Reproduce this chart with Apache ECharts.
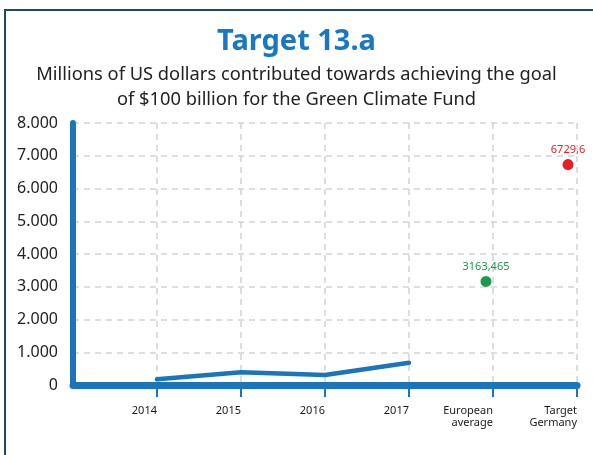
<!DOCTYPE html>
<html><head><meta charset="utf-8">
<script src="https://cdn.jsdelivr.net/npm/echarts@6/dist/echarts.min.js"></script>
<style>html,body{margin:0;padding:0;background:#fff;}#frame{position:absolute;left:4px;top:9px;width:600px;height:460px;border-left:2px solid #1f4a5c;border-top:2px solid #1f4a5c;}#c{position:absolute;left:0;top:0;width:593px;height:455px;}</style>
</head><body><div id="frame"></div><div id="c"></div>
<script>
const categories = ['', '2014', '2015', '2016', '2017', 'European\naverage', 'Target\nGermany'];
const contributions = [null, 175, 390, 305, 680, null, null];
const europeanAverage = [null, null, null, null, null, 3163.465, null];
const targetGermany = [null, null, null, null, null, null, 6729.6];
const yTicks = [0, 1000, 2000, 3000, 4000, 5000, 6000, 7000, 8000];

const chart = echarts.init(document.getElementById('c'));
const fam = '"Noto Sans", "DejaVu Sans", sans-serif';
const blue = '#1a75bc';
const fmtComma = p => String(p.value).replace('.', ',');
chart.setOption({
  animation: false,
  textStyle: {fontFamily: fam},
  title: [
    {text: 'Target 13.a', left: 'center', top: 22, textStyle: {fontSize: 29, fontWeight: 'bold', color: '#1a78c2', fontFamily: fam}},
    {text: 'Millions of US dollars contributed towards achieving the goal\nof $100 billion for the Green Climate Fund', left: 'center', top: 57,
     textStyle: {fontSize: 18.3, fontWeight: 'normal', color: '#222', lineHeight: 25, fontFamily: fam, align: 'center'}}
  ],
  grid: {left: 73, right: 16, top: 123, bottom: 70},
  xAxis: {
    type: 'category', data: categories, boundaryGap: false,
    axisLine: {lineStyle: {color: blue, width: 7, cap: 'round'}},
    axisTick: {show: true, length: 12, lineStyle: {color: blue, width: 2}, interval: (i) => i > 0},
    axisLabel: {align: 'right', margin: 20, fontSize: 11, color: '#1a1a1a', lineHeight: 12, interval: 0},
    splitLine: {show: true, lineStyle: {color: '#d4d4d4', type: [6, 5], width: 1.5}}
  },
  yAxis: {
    type: 'value', min: yTicks[0], max: yTicks[yTicks.length - 1], interval: 1000,
    axisLine: {show: true, lineStyle: {color: blue, width: 6, cap: 'round'}},
    axisTick: {show: false},
    axisLabel: {fontSize: 16, color: '#222', margin: 15, formatter: v => v.toLocaleString('de-DE')},
    splitLine: {show: true, lineStyle: {color: '#d4d4d4', type: [6, 5], width: 1.5}}
  },
  series: [
    {type: 'line', data: contributions, showSymbol: false, connectNulls: false, lineStyle: {color: blue, width: 4.5, cap: 'round'}, z: 3},
    {type: 'scatter', data: europeanAverage, symbolSize: 11, symbolOffset: [-7, 0], itemStyle: {color: '#1b9a48', opacity: 1},
     label: {show: true, position: 'top', distance: 4, color: '#1b9a48', fontSize: 11, formatter: fmtComma}},
    {type: 'scatter', data: targetGermany, symbolSize: 11, symbolOffset: [-9, 0], itemStyle: {color: '#e81c24', opacity: 1},
     label: {show: true, position: 'top', distance: 4, color: '#e81c24', fontSize: 11, formatter: fmtComma}}
  ]
});
</script></body></html>
